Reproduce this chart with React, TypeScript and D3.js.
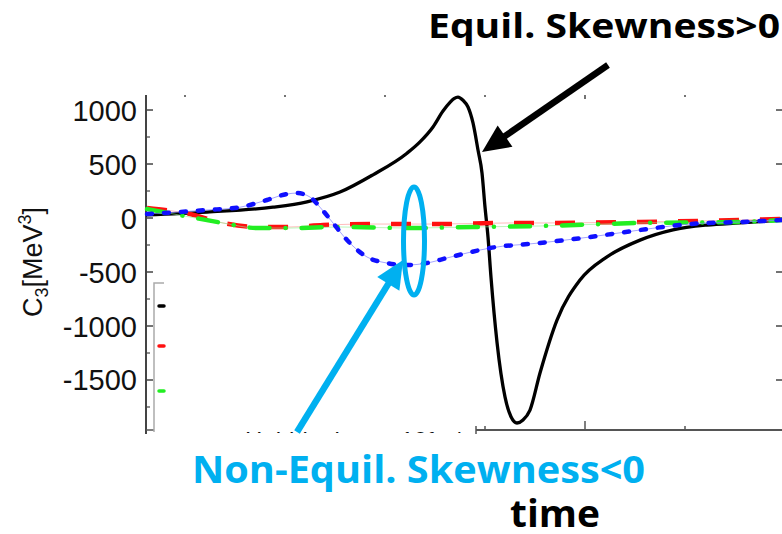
import React from "react";
import * as d3 from "d3";

// time (plot units) and C3 values [MeV^3] for each trajectory
const tEquil = [0.61, 1.22, 1.88, 2.22, 2.55, 2.88, 3.22, 3.35, 3.48, 3.58, 3.65, 3.69, 3.73, 3.78, 3.83, 3.88, 3.93, 3.97, 4.0, 4.03, 4.06, 4.12, 4.2, 4.26, 4.32, 4.38, 4.45, 4.55, 4.72, 4.95, 5.22, 5.55, 5.88, 6.22, 6.55, 6.97];
const cEquil = [28, 55, 100, 150, 240, 400, 600, 705, 843, 990, 1070, 1105, 1120, 1090, 1028, 880, 630, 417, 102, -176, -550, -1150, -1657, -1840, -1898, -1870, -1778, -1435, -945, -575, -360, -205, -110, -65, -45, -20];

const tNonEq = [0.62, 1.22, 1.55, 1.82, 2.02, 2.12, 2.25, 2.35, 2.48, 2.62, 2.82, 3.02, 3.22, 3.42, 3.62, 3.82, 4.05, 4.55, 5.05, 5.55, 6.05, 6.55, 6.97];
const cNonEq = [37, 74, 100, 167, 222, 231, 194, 100, -46, -204, -361, -417, -435, -417, -370, -324, -278, -231, -176, -111, -56, -37, -19];

const tRed = [0.62, 1.05, 1.38, 1.72, 2.05, 2.38, 2.88, 3.55, 4.22, 4.55, 5.55, 6.55, 6.97];
const cRed = [93, 37, -46, -83, -83, -65, -56, -56, -46, -46, -37, -19, -9];

const tGreen = [0.62, 1.05, 1.38, 1.72, 2.05, 2.55, 3.22, 3.88, 4.55, 5.55, 6.55, 6.97];
const cGreen = [83, 9, -46, -93, -93, -83, -93, -83, -74, -46, -37, -19];

const yMajorTicks = [1000, 500, 0, -500, -1000, -1500];
const yMinorTicks = [750, 250, -250, -750, -1250, -1750];
const xTicks = [1, 2, 3, 4, 5, 6];

const W = 782;
const H = 534;

const x = d3.scaleLinear().domain([0.61, 6.97]).range([146, 782]);
const y = d3.scaleLinear().domain([-1963, 1139]).range([430, 95]);

const line = d3
  .line<[number, number]>()
  .x((d) => x(d[0]))
  .y((d) => y(d[1]))
  .curve(d3.curveMonotoneX);

const zip = (ts: number[], cs: number[]) => ts.map((t, i) => [t, cs[i]] as [number, number]);

function arrowHead(x1: number, y1: number, x2: number, y2: number, len: number, half: number) {
  const dx = x2 - x1;
  const dy = y2 - y1;
  const L = Math.hypot(dx, dy);
  const ux = dx / L;
  const uy = dy / L;
  const bx = x2 - ux * len;
  const by = y2 - uy * len;
  const px = -uy;
  const py = ux;
  return {
    shaftEnd: [bx + ux * 2, by + uy * 2],
    points: `${x2},${y2} ${bx + px * half},${by + py * half} ${bx - px * half},${by - py * half}`,
  };
}

export default function App() {
  const axisFont = "'Liberation Sans', Arial, sans-serif";
  const noteFont = "'Open Sans', 'Noto Sans', sans-serif";
  const sky = "#00b0f0";

  const blackArrow = arrowHead(608, 65, 482, 152, 28, 13);
  const blueArrow = arrowHead(297, 432, 403, 260, 28, 13);

  const redPath = line(zip(tRed, cRed)) ?? "";
  const greenPath = line(zip(tGreen, cGreen)) ?? "";
  const bluePath = line(zip(tNonEq, cNonEq)) ?? "";

  return (
    <svg
      width={W}
      height={H}
      viewBox={`0 0 ${W} ${H}`}
      style={{ position: "absolute", left: 0, top: 0, background: "#fff" }}
    >
      <defs>
        <clipPath id="under-axis">
          <rect x={0} y={0} width={W} height={433} />
        </clipPath>
      </defs>

      {/* left axis */}
      <line x1={146} x2={146} y1={95} y2={434} stroke="#444" strokeWidth={2} />
      <line x1={146} x2={154} y1={430} y2={430} stroke="#555" strokeWidth={1.5} />
      {yMajorTicks.map((v) => (
        <g key={`ym${v}`}>
          <line x1={146} x2={153} y1={y(v)} y2={y(v)} stroke="#444" strokeWidth={1.5} />
          <line x1={782} x2={776} y1={y(v)} y2={y(v)} stroke="#444" strokeWidth={1.5} />
          <text
            x={137}
            y={y(v) + 10.5}
            textAnchor="end"
            fontFamily={axisFont}
            fontSize={29}
            fill="#111"
          >
            {v < 0 ? `-${Math.abs(v)}` : v}
          </text>
        </g>
      ))}
      {yMinorTicks.map((v) => (
        <line key={`yn${v}`} x1={146} x2={150} y1={y(v)} y2={y(v)} stroke="#444" strokeWidth={1.2} />
      ))}

      {/* y label */}
      <text
        transform="translate(42,262) rotate(-90)"
        textAnchor="middle"
        fontFamily={axisFont}
        fontSize={27}
        fill="#111"
      >
        C<tspan fontSize={18} dy={6}>3</tspan>
        <tspan dy={-6}>[MeV</tspan>
        <tspan fontSize={18} dy={-11}>3</tspan>
        <tspan dy={11}>]</tspan>
      </text>

      {/* top frame ticks */}
      {xTicks.map((t) => (
        <line
          key={`xt${t}`}
          x1={x(t)}
          x2={x(t)}
          y1={95}
          y2={t === 5 ? 99 : 97}
          stroke="#444"
          strokeWidth={1.5}
        />
      ))}

      {/* bottom axis segment */}
      <line x1={476} x2={782} y1={430} y2={430} stroke="#555" strokeWidth={2} />
      <line x1={476} x2={476} y1={426} y2={434} stroke="#555" strokeWidth={1.5} />
      {xTicks
        .filter((t) => x(t) > 476)
        .map((t) => (
          <line
            key={`xb${t}`}
            x1={x(t)}
            x2={x(t)}
            y1={430}
            y2={t === 5 ? 421 : 426}
            stroke="#555"
            strokeWidth={1.5}
          />
        ))}

      {/* partially hidden labels below the frame */}
      <g clipPath="url(#under-axis)">
        <text x={245} y={449} fontFamily={axisFont} fontSize={24} fill="#111">
          Hubble time = 10fm/c
        </text>
        <text x={542} y={455} textAnchor="middle" fontFamily={axisFont} fontSize={29} fill="#111">
          2
        </text>
      </g>

      {/* legend frame */}
      <path d="M164,283 H154 V432" fill="none" stroke="#aaa" strokeWidth={1.5} />
      <line x1={159} x2={164} y1={306} y2={306} stroke="#000" strokeWidth={3.5} strokeLinecap="round" />
      <line x1={159} x2={164} y1={346} y2={346} stroke="#ff1010" strokeWidth={3.5} strokeLinecap="round" />
      <line x1={159} x2={164} y1={391} y2={391} stroke="#22ee22" strokeWidth={3.5} strokeLinecap="round" />

      {/* curves */}
      <path d={line(zip(tEquil, cEquil)) ?? ""} fill="none" stroke="#000" strokeWidth={3.3} />

      <path d={redPath} fill="none" stroke="#ff9090" strokeWidth={1} opacity={0.6} />
      <path d={redPath} fill="none" stroke="#ff1010" strokeWidth={4.5} strokeDasharray="20 21" />

      <path d={greenPath} fill="none" stroke="#90f090" strokeWidth={1} opacity={0.6} />
      <path
        d={greenPath}
        fill="none"
        stroke="#22ee22"
        strokeWidth={4.5}
        strokeDasharray="20 16 0.1 16"
        strokeLinecap="round"
      />

      <path d={bluePath} fill="none" stroke="#8080ff" strokeWidth={1} opacity={0.7} />
      <path
        d={bluePath}
        fill="none"
        stroke="#1010ff"
        strokeWidth={4.5}
        strokeDasharray="5 12"
        strokeLinecap="round"
      />

      {/* annotations */}
      <text
        x={428}
        y={38}
        fontFamily={noteFont}
        fontWeight={700}
        fontSize={34}
        textLength={352}
        lengthAdjust="spacingAndGlyphs"
        fill="#000"
      >
        Equil. Skewness&gt;0
      </text>
      <line
        x1={608}
        y1={65}
        x2={blackArrow.shaftEnd[0]}
        y2={blackArrow.shaftEnd[1]}
        stroke="#000"
        strokeWidth={6.5}
      />
      <polygon points={blackArrow.points} fill="#000" />

      <ellipse cx={414} cy={241} rx={10.5} ry={54} fill="none" stroke={sky} strokeWidth={5} />
      <line
        x1={297}
        y1={432}
        x2={blueArrow.shaftEnd[0]}
        y2={blueArrow.shaftEnd[1]}
        stroke={sky}
        strokeWidth={6.5}
      />
      <polygon points={blueArrow.points} fill={sky} />

      <text
        x={192}
        y={483}
        fontFamily={noteFont}
        fontWeight={700}
        fontSize={38}
        textLength={453}
        lengthAdjust="spacingAndGlyphs"
        fill={sky}
      >
        Non-Equil. Skewness&lt;0
      </text>
      <text
        x={510}
        y={527}
        fontFamily={noteFont}
        fontWeight={700}
        fontSize={38}
        textLength={90}
        lengthAdjust="spacingAndGlyphs"
        fill="#000"
      >
        time
      </text>
    </svg>
  );
}
